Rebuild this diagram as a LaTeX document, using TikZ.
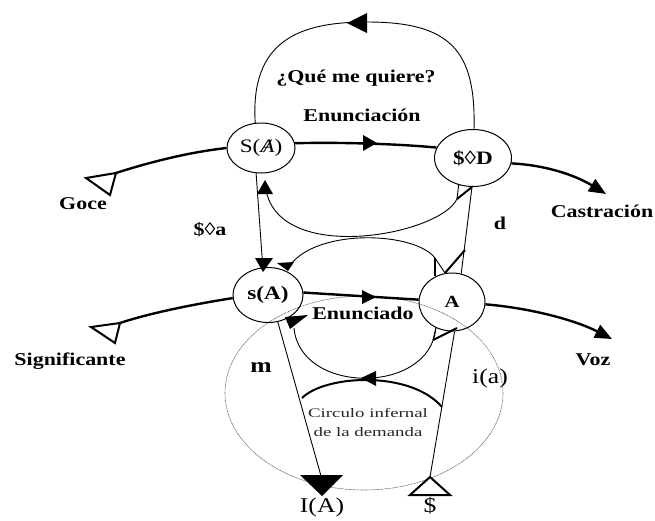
\documentclass[tikz,border=0pt]{standalone}
\usepackage{fontspec}
\setmainfont{Liberation Serif}[FakeStretch=1.22]
\newfontfamily\circfont{Liberation Serif}[FakeStretch=1.45]
\usetikzlibrary{shapes.geometric,arrows.meta}
\newcommand\barredA{\ooalign{\itshape A\cr\hidewidth\itshape/\hidewidth}}
\begin{document}
\begin{tikzpicture}[x=1pt,y=-1pt,
  ell/.style={draw,ellipse,line width=1pt,inner sep=0pt},
  thickline/.style={line width=2.4pt},
  medline/.style={line width=2pt},
  thinline/.style={line width=0.9pt},
  lab/.style={font=\fontsize{18}{20}\selectfont\bfseries,inner sep=0pt},
  biglab/.style={font=\fontsize{21}{23}\selectfont,inner sep=0pt},
  head/.style={fill=black},
  openhead/.style={draw,line width=2pt,fill=white,line join=miter},
  endtip/.style={-{Triangle[length=17pt,width=14pt]}},
]
\useasboundingbox (0,0) rectangle (655,520);

% dotted circle
\node[draw=black!60,ellipse,line width=0.6pt,dash pattern=on 1pt off 0.6pt,
      minimum width=278pt,minimum height=194pt,inner sep=0pt] (circ) at (364,393) {};

% ellipse nodes
\node[ell,minimum width=68pt,minimum height=50pt] (SA) at (261,148)
  {\fontsize{19}{20}\selectfont S(\barredA)};
\node[ell,minimum width=77pt,minimum height=57pt] (SD) at (473,158)
  {\fontsize{19}{20}\selectfont\bfseries \$◊D};
\node[ell,minimum width=70pt,minimum height=55pt] (sA) at (268,295)
  {\fontsize{19}{20}\selectfont\bfseries s(A)};
\node[ell,minimum width=66pt,minimum height=58pt] (A) at (452,302)
  {\fontsize{17}{18}\selectfont\bfseries A};

% named points
\coordinate (Dm) at (457,199);
\coordinate (Atl) at (435,258);
\coordinate (Atb) at (435,276);
\coordinate (Atm) at (445,273);
\coordinate (Atr) at (465,250);
\coordinate (Abl) at (433,340);
\coordinate (Abr) at (457,328);
\coordinate (G) at (116,173);
\coordinate (Sg) at (120,323);
\coordinate (IAt) at (321,476);
\coordinate (St) at (430,477);
\coordinate (arcL) at (302,398);
\coordinate (arcR) at (442,407);

% top arc  (Que me quiere?)
\draw[thinline] (SA.103) .. controls (250,40) and (300,22) .. (367,22)
  .. controls (450,22) and (476,50) .. (SD.88);
\fill[head] (347,23) -- (367,13) -- (367,33) -- cycle;

% Enunciacion
\draw[thickline] (SA.8) .. controls (340,142) and (400,144) .. (SD.164);
\fill[head] (377,143) -- (363,135) -- (363,151) -- cycle;

% Goce
\draw[thickline] (SA.180) .. controls (190,152) and (150,162) .. (G);
\draw[openhead] (86,178) -- (G) -- (110,195) -- cycle;

% Castracion
\draw[thickline,endtip] (SD.-8) .. controls (545,165) and (575,175) .. (606,194);

% Significante
\draw[thickline] (sA.185) .. controls (195,304) and (150,313) .. (Sg);
\draw[openhead] (91,327) -- (Sg) -- (115,343) -- cycle;

% Enunciado
\draw[thickline] (sA.4) -- (A.176);
\fill[head] (376,297) -- (362,290) -- (362,304) -- cycle;

% Voz
\draw[thickline,endtip] (A.-4) .. controls (530,308) and (575,320) .. (612,339);

% S(A) -> s(A)
\draw[thinline] (SA.-101) -- (263,270);
\fill[head] (255,258) -- (273,258) -- (263,272) -- cycle;

% $D -> S(A) lower arc
\draw[thinline] (SD.-118) -- (Dm);
\draw[medline] (Dm) -- (SD.-92);
\draw[thinline] (Dm) .. controls (440,235) and (280,265) .. (266,190);
\fill[head] (257,194) -- (273,194) -- (265,180) -- cycle;

% A -> s(A) upper arc
\draw[thinline] (Atl) .. controls (415,232) and (320,228) .. (291,264);
\fill[head] (277,263) -- (294,262) -- (288,271) -- cycle;
\draw[medline] (Atl) -- (Atb);
\draw[thinline] (Atl) -- (Atm);
\draw[medline] (Atm) -- (Atr);

% d line
\draw[thinline] (A.72) -- (SD.-92);

% A -> s(A) lower arc
\draw[thinline] (A.-122) -- (Abl);
\draw[medline] (Abl) -- (Abr);
\draw[thinline] (A.-122) .. controls (430,395) and (300,395) .. (294,328);
\fill[head] (285,317) -- (308,315) -- (290,329) -- cycle;

% m line and I(A)
\draw[thinline] (sA.-70) -- (IAt);
\fill[head] (300,475) -- (343,475) -- (322,496) -- cycle;

% i(a) line and $
\draw[thinline] (A.-85) -- (St);
\draw[openhead] (410,495) -- (450,495) -- (St) -- cycle;

% thick lower arc
\draw[medline] (arcL) .. controls (325,375) and (410,370) .. (arcR);
\fill[head] (361,378) -- (376,371) -- (376,386) -- cycle;

% labels
\node[lab] (qm) at (356,78) {¿Qué me quiere?};
\node[lab] (en1) at (362,115) {Enunciación};
\node[lab] (goce) at (83,204) {Goce};
\node[lab] (sa) at (210,230) {\$◊a};
\node[lab] (cas) at (602,211) {Castración};
\node[lab] (d) at (500,223) {d};
\node[lab] (sig) at (70,361) {Significante};
\node[lab] (en2) at (363,313) {Enunciado};
\node[lab] (voz) at (593,360) {Voz};
\node[lab,font=\fontsize{21}{22}\selectfont\bfseries] (m) at (261,368) {m};
\node[biglab] (ia) at (490,378) {i(a)};
\node[font=\circfont\fontsize{13}{19}\selectfont,text=black!85,align=center,inner sep=0pt]
  (circtext) at (368,422) {Circulo infernal\\de la demanda};
\node[biglab] (IA) at (322,507) {I(A)};
\node[biglab] (dollar) at (430,506) {\$};
\end{tikzpicture}
\end{document}
